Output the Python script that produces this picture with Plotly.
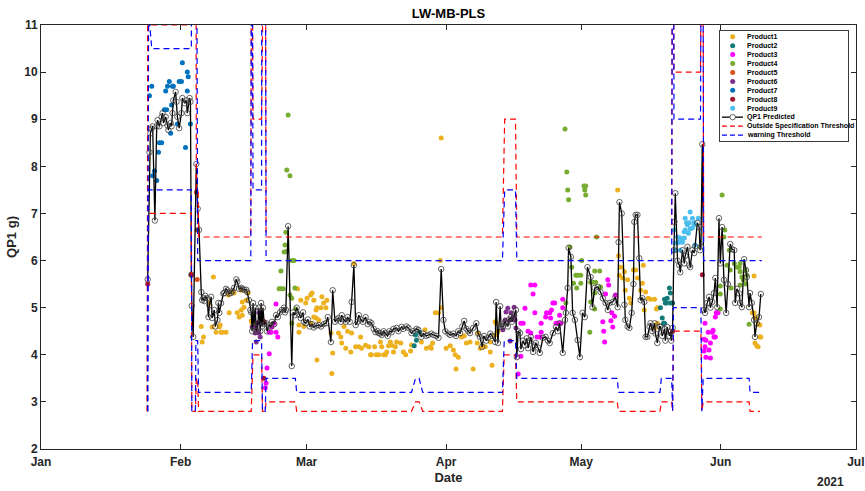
import pandas as pd
import plotly.graph_objects as go

BASE = pd.Timestamp("2021-01-01")

# ---- QP1 predicted (day offset from 1 Jan 2021, value in g) ----
pred_day = [
    23.7, 24.1, 24.3, 24.6, 24.8, 25.3, 25.7, 25.9, 26.3, 26.8, 27.0, 27.2, 27.7, 28.1, 28.3,
    28.8, 29.0, 29.2, 29.4, 29.9, 30.1, 30.3, 30.7, 31.2, 31.4, 31.9, 32.3, 32.5, 33.0, 33.2,
    33.4, 33.5, 33.8, 34.5, 34.8, 35.1, 35.6, 35.8,
    36.1, 36.3, 36.5, 36.9, 37.2, 37.4, 37.8, 38.0, 38.5, 38.7, 39.2, 39.4, 39.6, 40.0, 40.5,
    40.7, 41.1, 41.4, 41.8, 42.2, 42.5, 42.9, 43.4, 43.6, 44.0, 44.5, 44.7, 45.1, 45.6, 45.8,
    46.2, 46.5,
    46.7, 46.9, 47.1, 47.3, 47.6, 47.8, 48.2, 48.4, 48.7, 48.9, 49.1, 49.3, 49.6,
    50.0, 50.2, 50.7, 51.1, 51.3, 51.8, 52.2, 52.6, 53.1, 53.5, 54.0, 54.2, 54.4, 54.9, 55.7,
    56.0, 56.4,
    56.8, 57.3, 57.7, 58.2, 58.4, 58.8, 59.3, 59.7, 60.2, 60.6, 61.1, 61.7, 62.2, 62.8, 63.3,
    63.7, 64.4, 64.8, 65.3, 65.7, 66.1, 66.6, 66.8, 67.2, 67.7, 68.1, 68.6, 69.0, 69.5, 69.9,
    70.3, 70.6, 71.0, 71.5, 72.1, 72.6, 73.0, 73.4, 73.9, 74.3, 74.8, 75.0, 75.4, 75.7, 76.1,
    76.5, 77.0, 77.4, 77.9, 78.3, 79.0, 79.4, 80.1, 80.5, 81.2, 81.6, 82.3, 82.7, 83.4, 83.8,
    84.5, 84.9, 85.6, 86.0, 86.7, 87.2, 87.8, 88.3, 88.9, 89.4, 89.8, 90.5, 90.9, 91.6, 92.2,
    92.7, 93.1, 93.6, 94.0, 94.5, 94.9, 95.3, 96.0, 96.7, 97.1, 97.5, 98.0, 98.4, 98.9, 99.3,
    99.8, 100.2, 100.9, 101.1, 101.5, 102.0, 102.2, 102.6,
    103.1, 103.3, 103.7, 104.0, 104.4, 104.6, 105.1, 105.5, 105.7,
    106.0, 106.4, 106.6, 107.1, 107.5, 107.9, 108.2, 108.6, 108.8, 109.3, 109.7, 109.9, 110.4,
    110.8, 111.5, 112.1, 112.6, 113.0, 113.7, 114.4, 114.8, 115.2, 115.9, 116.4, 116.6, 117.0,
    117.2, 117.7, 118.1, 118.6, 119.2, 119.7, 120.3, 120.8, 121.4, 122.1, 122.5, 123.0, 123.7,
    124.3, 124.8, 125.4, 125.9, 126.3, 127.0, 127.6, 128.1,
    128.3, 128.5, 129.0, 129.6, 129.8, 130.3, 130.7, 131.2, 131.6, 131.8, 132.1, 132.5, 132.9,
    133.2, 133.6, 134.0, 134.3, 134.7, 135.2, 135.4, 135.8, 136.3, 136.5, 136.9, 137.4,
    137.6, 138.0, 138.5, 138.7, 139.1, 139.6, 139.8, 140.0, 140.3,
    140.6, 140.7, 140.9, 141.4, 141.8, 142.0, 142.5, 142.9, 143.1, 143.6, 144.0, 144.2, 144.7,
    145.1, 145.3, 145.8, 146.2, 146.4, 146.6, 146.9,
    147.3, 147.5, 148.0, 148.4, 148.7, 149.1, 149.5, 149.8, 150.2, 150.6, 150.9, 151.3, 151.7,
    152.2, 152.6, 153.1, 153.5, 154.0, 154.2, 154.6, 155.1, 155.3, 155.7, 156.2, 156.6, 156.8,
    157.3, 157.5, 157.9, 158.4, 158.6, 159.0, 159.5, 159.9,
]
pred_val = [
    5.6, 8.3, 8.7, 8.8, 8.85, 6.85, 8.85, 8.98, 8.85, 9.05, 9.13, 8.92, 9.05, 8.87, 8.77,
    8.92, 8.85, 9.13, 9.4, 9.58, 9.37, 9.05, 8.81, 9.13, 9.45, 9.34, 9.4, 9.13, 9.45, 9.37,
    5.7, 5.04, 4.38, 8.05, 7.1, 6.65, 5.33, 5.16,
    5.2, 5.14, 5.25, 5.2, 4.8, 5.05, 5.23, 4.78, 4.95, 4.6, 4.74, 5.1, 4.89, 5.1, 5.3,
    5.31, 5.4, 5.37, 5.3, 5.31, 5.35, 5.42, 5.6, 5.55, 5.4, 5.42, 5.4, 5.38, 5.38, 5.33,
    5.16, 4.95,
    4.9, 4.5, 5.1, 4.6, 5.0, 4.5, 4.67, 5.0, 4.5, 5.1, 4.6, 5.0, 4.65,
    4.67, 4.5, 4.63, 4.6, 4.7, 4.65, 4.84, 4.8, 4.9, 4.95, 5.0, 4.9, 4.95, 6.73, 3.76,
    4.9, 4.84,
    5.0, 4.85, 4.78, 4.9, 4.7, 4.67, 4.75, 4.6, 4.65, 4.58, 4.62, 4.63, 4.6, 4.65, 4.67,
    4.8, 4.27, 5.37, 4.7, 4.75, 4.78, 4.7, 4.84, 4.75, 4.7, 4.8, 4.7, 5.12, 5.9, 4.63,
    4.7, 4.84, 4.75, 4.7, 4.8, 4.65, 4.7, 4.67, 4.55, 4.48, 4.5, 4.46, 4.45, 4.42, 4.5,
    4.46, 4.4, 4.5, 4.48, 4.55, 4.57, 4.5, 4.59, 4.55, 4.6, 4.57, 4.46, 4.5, 4.55, 4.53,
    4.38, 4.45, 4.4, 4.42, 4.45, 4.42, 4.4, 4.36, 5.82, 4.74, 4.5, 4.45, 4.42, 4.45, 4.4,
    4.5, 4.46, 4.6, 4.72, 4.55, 4.5, 4.46, 4.57, 4.67, 4.45, 4.38, 4.17, 4.4, 4.3, 4.36,
    4.45, 4.4, 4.27, 5.12, 4.25, 5.03, 4.59, 4.6,
    4.7, 4.67, 4.6, 4.75, 4.8, 4.7, 4.84, 4.95, 3.95,
    4.5, 4.46, 4.12, 4.3, 4.2, 4.35, 4.14, 4.3, 4.38, 4.06, 4.2, 4.25, 4.15,
    4.04, 4.36, 4.38, 4.3, 4.25, 4.46, 4.59, 4.5, 4.67, 4.04, 4.74, 4.89, 5.42,
    6.27, 6.08, 4.89, 4.74, 4.31, 3.95, 4.89, 4.8, 5.86, 5.65, 5.01, 5.42, 5.44,
    5.33, 5.2, 5.1, 4.95, 5.1, 5.12, 5.23, 5.01,
    6.39, 7.24, 7.0, 5.06, 4.74, 4.6, 4.57, 4.89, 5.5, 6.82, 6.97, 6.97, 6.05,
    5.16, 5.2, 5.12, 4.38, 4.38, 4.6, 4.67, 4.5, 4.67, 4.45, 4.25, 4.6,
    4.59, 4.4, 4.55, 4.3, 4.59, 4.4, 4.48, 4.3, 4.57,
    6.22, 6.82, 7.43, 6.0, 5.9, 5.75, 6.22, 5.94, 6.1, 6.29, 5.9, 5.86, 6.22,
    6.16, 6.3, 6.8, 6.71, 6.22, 6.3, 8.47,
    4.95, 4.89, 5.1, 5.23, 5.0, 5.12, 5.31, 5.63, 5.01, 6.9, 5.94, 6.71, 5.59,
    4.89, 5.5, 6.35, 6.24, 6.22, 5.1, 5.4, 5.3, 5.1, 5.01, 6.03, 5.8, 5.65,
    5.01, 5.31, 5.1, 4.74, 4.38, 4.67, 4.8, 5.29,
]

# ---- measured QP1 per product ----
p1_day = [
    35.6, 35.8, 36.1, 37.4, 38.0, 38.3, 38.9, 39.6, 39.8, 40.0, 40.3, 41.1, 41.6, 41.8, 42.5,
    42.9, 43.6, 44.0, 44.5, 44.5, 44.7, 44.7, 45.1, 45.6, 46.0, 46.7, 46.9,
    57.0, 57.3, 57.3, 57.7, 58.4, 58.8, 59.1, 59.9, 59.9, 60.2, 60.6, 60.6, 61.1, 61.1, 61.3,
    61.3, 61.7, 62.2, 62.4, 62.8, 63.3, 63.5, 64.4, 64.6, 64.8, 66.1, 66.6, 66.8, 67.3, 67.7,
    68.1, 68.8, 69.0, 69.5, 69.9, 70.6, 71.0, 71.2, 72.1, 72.8, 73.2, 73.4, 74.1, 74.5, 75.0,
    75.4, 75.7, 76.1, 76.5, 76.8, 77.2, 77.6, 77.9, 78.3, 78.7, 79.0, 79.9, 80.5, 81.0, 82.1,
    82.3, 84.5, 85.3, 85.6, 86.5, 86.7, 87.0, 87.6, 88.3, 88.7, 88.9, 88.9, 90.0, 90.9, 91.6,
    92.0, 92.2, 92.7, 93.4, 94.0, 94.5, 95.3, 96.0, 96.9, 97.1, 97.6, 98.2, 98.7, 99.8, 99.8,
    100.2, 100.9, 100.9, 101.1, 101.5,
    128.1, 128.3, 128.5, 128.8, 129.2, 129.6, 129.8, 130.3, 130.7, 131.0, 131.6, 132.1, 132.5,
    133.2, 133.6, 133.8, 134.0, 134.3, 134.9, 135.4, 136.3, 136.3, 136.7, 136.9, 136.9,
    158.0, 158.4, 158.4, 158.6, 158.6, 158.8, 159.0, 159.3, 159.3, 159.7, 159.7, 159.9,
]
p1_val = [
    4.6, 4.27, 4.38, 5.1, 4.59, 5.65, 4.48, 4.59, 4.63, 4.48, 4.48, 4.48, 5.27, 4.89, 5.33,
    5.31, 4.89, 4.8, 4.95, 5.37, 4.84, 5.12, 5.01, 5.16, 5.31, 4.72, 4.67,
    5.4, 4.63, 4.48, 5.16, 4.6, 5.1, 5.2, 5.27, 4.67, 5.31, 5.16, 4.8, 4.95, 4.78, 5.0,
    3.89, 4.74, 5.0, 5.23, 5.1, 5.0, 5.16, 4.46, 3.6, 4.04, 4.46, 4.38, 4.25, 4.6, 4.14,
    4.5, 4.06, 4.46, 5.94, 4.17, 4.17, 4.38, 4.14, 4.2, 4.17, 4.0, 4.0, 4.17, 4.0, 4.0,
    4.27, 4.17, 4.0, 4.0, 4.06, 4.19, 4.27, 4.2, 4.06, 4.17, 4.27, 4.25, 4.06, 4.0, 4.08,
    4.21, 4.27, 4.53, 4.14, 4.17, 4.14, 4.25, 4.89, 4.89, 6.0, 8.6, 5.0, 4.14, 4.19, 4.1,
    4.0, 3.7, 3.95, 4.38, 4.4, 4.25, 4.27, 3.7, 4.25, 4.46, 4.14, 4.17, 4.17, 4.06, 4.27,
    3.78, 4.42, 4.7, 4.67, 4.5,
    7.5, 6.1, 5.69, 5.86, 5.63, 5.76, 5.37, 5.59, 5.2, 5.1, 5.8, 5.8, 5.63,
    5.37, 5.52, 5.9, 4.95, 5.33, 5.2, 5.18, 5.18, 4.57, 4.97, 4.67, 5.0,
    4.89, 5.67, 4.89, 4.8, 4.25, 4.78, 4.19, 4.65, 4.17, 4.63, 4.38, 4.38,
]

p2_day = [82.9, 83.2, 83.4, 84.1, 137.6, 138.0, 138.3, 138.5, 138.5, 138.7, 138.9, 139.1,
          139.6, 139.8, 139.8, 140.3]
p2_val = [4.19, 4.42, 4.31, 4.48, 5.0, 4.78, 4.67, 5.18, 4.67, 5.1, 5.1, 5.2,
          5.42, 5.31, 5.1, 5.1]

p3_day = [
    49.8, 50.0, 50.2, 50.7, 50.7, 51.1, 51.3, 51.8, 52.2, 52.2, 52.6,
    106.0, 106.6, 106.6, 107.1, 107.5, 108.2, 108.8, 108.8, 109.3, 109.7, 109.7, 110.2, 110.8,
    111.1, 111.1, 112.1, 112.3, 113.0, 113.2, 113.4, 113.7, 114.1, 114.4, 114.8, 115.2, 115.5,
    115.9, 115.9,
    124.8, 125.0, 125.2, 125.4, 125.9, 126.1, 126.6, 126.8, 127.0, 127.4, 127.6,
    147.3, 147.3, 147.5, 147.5, 147.7, 147.7, 148.2, 148.4, 148.7, 148.7, 149.1, 149.3, 149.5,
    149.8, 149.8, 150.0, 150.2, 150.4,
]
p3_val = [
    3.3, 3.4, 3.72, 4.02, 4.48, 4.48, 4.59, 4.67, 5.08, 4.48, 4.38,
    3.59, 3.97, 4.67, 4.67, 4.99, 4.5, 5.48, 4.46, 5.29, 5.48, 4.89, 4.38, 4.38,
    4.48, 4.67, 4.8, 4.89, 4.89, 4.78, 4.95, 5.1, 5.1, 4.67, 4.67, 4.84, 4.67,
    5.18, 5.0,
    4.7, 4.5, 4.27, 5.29, 5.59, 5.48, 4.72, 4.89, 4.59, 4.82, 5.27,
    4.33, 4.08, 4.67, 4.17, 4.31, 3.95, 4.48, 4.1, 4.25, 3.93, 4.48, 4.52, 4.38,
    4.8, 4.38, 4.89, 4.89, 4.89,
]

p4_day = [
    54.9, 54.6, 55.3, 54.4, 54.2, 54.0, 54.6, 55.7, 56.2, 53.3, 52.9, 53.3, 53.8, 56.4, 55.7,
    55.3, 56.6, 55.7,
    116.4, 116.8, 117.0, 117.2, 120.6, 121.0, 120.8, 121.0, 123.4, 117.5, 117.9, 120.1, 123.0,
    124.1, 118.8, 119.2, 119.9, 118.3, 119.0, 119.9, 116.6, 122.1, 122.5, 123.0, 124.3, 121.9,
    122.1, 123.0, 123.2,
    151.3, 151.9, 151.7, 152.9, 152.4, 153.1, 154.0, 154.6, 155.1, 155.3, 155.7, 156.0, 156.4,
    156.8, 156.6, 155.3, 153.3, 150.9, 150.9, 150.9, 157.3, 155.3,
]
p4_val = [
    9.09, 7.92, 7.8, 6.6, 6.33, 6.18, 6.2, 6.0, 6.0, 5.78, 5.4, 5.4, 5.4, 5.42, 5.2,
    5.27, 4.97, 4.67,
    8.79, 7.88, 7.5, 7.29, 7.58, 7.58, 7.5, 7.39, 6.5, 6.29, 5.86, 6.0, 5.78,
    5.78, 5.69, 5.69, 5.69, 5.52, 5.42, 5.52, 5.1, 5.54, 5.54, 5.31, 5.44, 4.48,
    5.12, 4.97, 5.54,
    7.39, 6.65, 6.5, 6.22, 5.9, 5.8, 5.94, 5.86, 5.86, 5.76, 5.65, 5.59, 5.8,
    5.69, 5.5, 5.48, 5.42, 5.46, 5.29, 4.97, 4.65, 5.94,
]

p5_day = [34.5, 34.7, 34.7]
p5_val = [7.45, 6.65, 5.6]

p6_day = [46.9, 47.3, 47.6, 47.8, 47.8, 48.1, 48.1, 48.4, 48.4, 48.7, 49.1,
          102.6, 103.1, 103.3, 103.7, 104.2, 104.2, 104.4, 104.9, 105.1, 105.3, 105.5]
p6_val = [4.59, 4.89, 4.46, 4.27, 4.57, 4.48, 4.67, 4.89, 4.46, 4.38, 4.67,
          4.53, 4.74, 4.91, 4.99, 4.74, 4.29, 4.89, 4.8, 5.01, 4.74, 4.57]

p7_day = [24.1, 24.6, 24.8, 25.2, 25.7, 26.1, 26.3, 26.8, 27.4, 27.7, 27.9, 28.1, 28.5, 28.8,
          29.0, 29.2, 29.4, 30.3, 30.7, 31.2, 31.4, 32.1, 32.5, 32.5, 32.7, 33.2]
p7_val = [9.5, 9.7, 7.8, 7.9, 7.7, 8.3, 8.5, 8.5, 9.2, 9.6, 9.2, 9.7, 9.8, 8.7,
          9.3, 9.7, 9.7, 8.9, 9.8, 9.8, 10.2, 8.4, 10.0, 9.6, 9.9, 8.9]

p8_day = [23.7, 33.4, 49.6, 49.5, 140.3, 146.9]
p8_val = [5.5, 5.7, 4.7, 3.5, 4.5, 5.7]

p9_day = [140.7, 140.9, 140.9, 141.4, 141.6, 141.8, 142.0, 142.0, 142.5, 142.5, 142.9, 142.9,
          143.1, 143.1, 143.4, 143.6, 143.8, 144.0, 144.2, 144.2, 144.7, 144.7, 145.1, 145.1,
          145.3, 146.0]
p9_val = [6.65, 6.37, 6.22, 6.5, 6.39, 6.39, 6.22, 6.48, 6.44, 6.39, 6.48, 6.61,
          6.65, 6.9, 6.8, 6.76, 6.58, 6.8, 7.03, 6.67, 6.9, 6.69, 6.8, 6.76,
          6.33, 6.9]

# ---- specification / warning limits (values above 11 run off the axis) ----
spec_hi_day = [23.6, 23.7, 33.4, 33.5, 34.4, 34.5, 34.9, 35.0, 46.6, 46.8, 47.0, 47.1, 49.0,
               49.1, 49.8, 50.0, 102.5, 103.0, 105.4, 105.7, 140.1, 140.3, 140.5, 140.6,
               146.5, 146.8, 147.0, 147.2, 160.1]
spec_hi_val = [2.8, 11.0, 11.0, 16.0, 16.0, 7.5, 7.5, 6.5, 6.5, 16.0, 16.0, 9.0, 9.0,
               16.0, 16.0, 6.5, 6.5, 9.0, 9.0, 6.5, 6.5, 16.0, 16.0, 10.0,
               10.0, 16.0, 16.0, 6.5, 6.5]
warn_hi_day = [23.7, 23.9, 24.6, 33.4, 33.5, 34.5, 34.8, 46.6, 46.8, 47.0, 47.1, 49.0, 49.1,
               49.8, 50.0, 102.5, 103.0, 105.4, 105.7, 140.1, 140.3, 140.5, 140.6, 146.5,
               146.8, 147.0, 147.2, 160.1]
warn_hi_val = [2.8, 11.3, 10.5, 10.5, 16.0, 16.0, 6.0, 6.0, 16.0, 16.0, 7.5, 7.5, 16.0,
               16.0, 6.0, 6.0, 7.5, 7.5, 6.0, 6.0, 16.0, 16.0, 9.0, 9.0,
               16.0, 16.0, 6.0, 6.0]
spec_lo_day = [23.6, 23.7, 33.4, 33.5, 34.3, 34.5, 34.8, 35.0, 46.7, 47.1, 49.0, 49.2, 49.8,
               50.0, 56.5, 56.8, 82.3, 83.2, 84.0, 84.8, 102.5, 102.9, 105.4, 105.7, 128.0,
               128.3, 137.5, 137.8, 140.1, 140.3, 140.5, 146.6, 146.8, 147.1, 157.3, 157.5,
               159.7]
spec_lo_val = [2.8, 7.0, 7.0, 2.8, 2.8, 3.5, 3.5, 2.8, 2.8, 4.0, 4.0, 2.8, 2.8,
               3.0, 3.0, 2.8, 2.8, 3.0, 3.0, 2.8, 2.8, 4.0, 4.0, 3.0, 3.0,
               2.8, 2.8, 3.0, 3.0, 2.8, 4.5, 4.5, 2.8, 3.0, 3.0, 2.8,
               2.8]
warn_lo_day = [23.7, 23.8, 33.4, 33.5, 34.3, 34.4, 34.8, 35.0, 46.7, 47.0, 49.0, 49.2, 49.8,
               50.0, 56.5, 56.8, 82.3, 83.2, 84.0, 84.8, 102.5, 102.9, 105.4, 105.7, 128.0,
               128.3, 137.5, 137.8, 140.1, 140.3, 140.5, 146.6, 146.8, 147.1, 157.3, 157.5,
               159.7]
warn_lo_val = [2.8, 7.5, 7.5, 2.8, 2.8, 4.3, 4.3, 3.2, 3.2, 4.3, 4.3, 2.8, 2.8,
               3.5, 3.5, 3.2, 3.2, 3.5, 3.5, 3.2, 3.2, 4.3, 4.3, 3.5, 3.5,
               3.2, 3.2, 3.5, 3.5, 2.8, 5.0, 5.0, 2.8, 3.5, 3.5, 3.2,
               3.2]

product_names = ["Product1", "Product2", "Product3", "Product4", "Product5",
                 "Product6", "Product7", "Product8", "Product9"]
product_colors = ["#EDB120", "#127A78", "#FF00FF", "#77AC30", "#D95319",
                  "#7E2F8E", "#0072BD", "#A2142F", "#4DBEEE"]
product_days = [p1_day, p2_day, p3_day, p4_day, p5_day, p6_day, p7_day, p8_day, p9_day]
product_vals = [p1_val, p2_val, p3_val, p4_val, p5_val, p6_val, p7_val, p8_val, p9_val]

x_ticks = ["Jan", "Feb", "Mar", "Apr", "May", "Jun", "Jul"]


def to_dates(days):
    return BASE + pd.to_timedelta(pd.Series(days, dtype=float), unit="D")


FONT = "Liberation Sans, Arial, Helvetica, sans-serif"
SPEC_COLOR = "#FF0000"
WARN_COLOR = "#0000FF"
RING = dict(symbol="circle-open", size=5.5, color="#3c3c3c", line=dict(width=0.8))

fig = go.Figure()

for name, color, d, v in zip(product_names, product_colors, product_days, product_vals):
    fig.add_trace(go.Scatter(
        x=to_dates(d), y=v, mode="markers", name=name, showlegend=False,
        marker=dict(size=5, color=color, line=dict(width=0)),
    ))

fig.add_trace(go.Scatter(
    x=to_dates(pred_day), y=pred_val, mode="lines+markers", name="QP1 Predicted",
    showlegend=False, line=dict(color="black", width=1.3), marker=RING,
))

for d, v in [(spec_hi_day, spec_hi_val), (spec_lo_day, spec_lo_val)]:
    fig.add_trace(go.Scatter(
        x=to_dates(d), y=v, mode="lines", showlegend=False,
        line=dict(color=SPEC_COLOR, width=1.2, dash="6px,4px"),
    ))
for d, v in [(warn_hi_day, warn_hi_val), (warn_lo_day, warn_lo_val)]:
    fig.add_trace(go.Scatter(
        x=to_dates(d), y=v, mode="lines", showlegend=False,
        line=dict(color=WARN_COLOR, width=1.2, dash="6px,4px"),
    ))

# ---- compact legend box drawn on its own small axes ----
legend_labels = product_names + ["QP1 Predicted", "Outside Specification Threshold",
                                 "warning Threshold"]
row_y = [5.7 + 8.94 * i for i in range(len(legend_labels))]
for i, color in enumerate(product_colors):
    fig.add_trace(go.Scatter(
        x=[12.7], y=[row_y[i]], mode="markers", xaxis="x2", yaxis="y2", showlegend=False,
        marker=dict(size=5, color=color), hoverinfo="skip",
    ))
fig.add_trace(go.Scatter(
    x=[2, 23], y=[row_y[9]] * 2, mode="lines", xaxis="x2", yaxis="y2", showlegend=False,
    line=dict(color="black", width=1.3), hoverinfo="skip",
))
fig.add_trace(go.Scatter(
    x=[12.7], y=[row_y[9]], mode="markers", xaxis="x2", yaxis="y2", showlegend=False,
    marker=dict(symbol="circle", size=5.5, color="white", line=dict(color="#3c3c3c", width=0.8)),
    hoverinfo="skip",
))
for i, color in [(10, SPEC_COLOR), (11, WARN_COLOR)]:
    fig.add_trace(go.Scatter(
        x=[2, 23], y=[row_y[i]] * 2, mode="lines", xaxis="x2", yaxis="y2", showlegend=False,
        line=dict(color=color, width=1.2, dash="5px,3px"), hoverinfo="skip",
    ))

annotations = []
for i, label in enumerate(legend_labels):
    annotations.append(dict(
        x=25, y=row_y[i], xref="x2", yref="y2", text=label, showarrow=False,
        xanchor="left", yanchor="middle",
        font=dict(family=FONT, size=7, color="black", weight="bold"),
    ))
annotations.append(dict(
    x=0.969, y=-0.078, xref="paper", yref="paper", text="2021", showarrow=False,
    xanchor="center", yanchor="middle",
    font=dict(family=FONT, size=12, color="#262626", weight="bold"),
))

month_starts = [BASE + pd.DateOffset(months=i) for i in range(len(x_ticks))]
x_end = BASE + pd.DateOffset(months=6) + pd.Timedelta(hours=1)

fig.update_layout(
    width=865, height=491,
    margin=dict(l=41, r=9, t=25, b=42),
    paper_bgcolor="white", plot_bgcolor="white",
    showlegend=False,
    title=dict(text="LW-MB-PLS", x=0.5, xref="paper", y=0.973, yanchor="middle",
               font=dict(family=FONT, size=13, color="black", weight="bold")),
    xaxis=dict(
        range=[BASE, x_end],
        tickvals=month_starts, ticktext=x_ticks,
        ticks="inside", ticklen=5, tickwidth=1, tickcolor="#262626",
        ticklabeloverflow="allow", ticklabelstandoff=2,
        showline=True, mirror="ticks", linecolor="#262626", linewidth=1,
        showgrid=False, zeroline=False, automargin=False,
        tickfont=dict(family=FONT, size=12, color="#262626", weight="bold"),
        title=dict(text="Date", standoff=4,
                   font=dict(family=FONT, size=13, color="#262626", weight="bold")),
    ),
    yaxis=dict(
        range=[2, 11], dtick=1, tick0=2,
        ticks="inside", ticklen=5, tickwidth=1, tickcolor="#262626",
        showline=True, mirror="ticks", linecolor="#262626", linewidth=1,
        showgrid=False, zeroline=False, automargin=False,
        tickfont=dict(family=FONT, size=12, color="#262626", weight="bold"),
        title=dict(text="QP1 g)", standoff=4,
                   font=dict(family=FONT, size=13, color="#262626", weight="bold")),
    ),
    xaxis2=dict(
        domain=[0.8331, 0.9902], range=[0, 128], anchor="y2",
        showline=True, mirror=True, linecolor="#3a3a3a", linewidth=1,
        showgrid=False, zeroline=False, showticklabels=False, ticks="", fixedrange=True,
    ),
    yaxis2=dict(
        domain=[0.7264, 0.9858], range=[110, 0], anchor="x2",
        showline=True, mirror=True, linecolor="#3a3a3a", linewidth=1,
        showgrid=False, zeroline=False, showticklabels=False, ticks="", fixedrange=True,
    ),
    annotations=annotations,
)

fig.write_html("out.html")
